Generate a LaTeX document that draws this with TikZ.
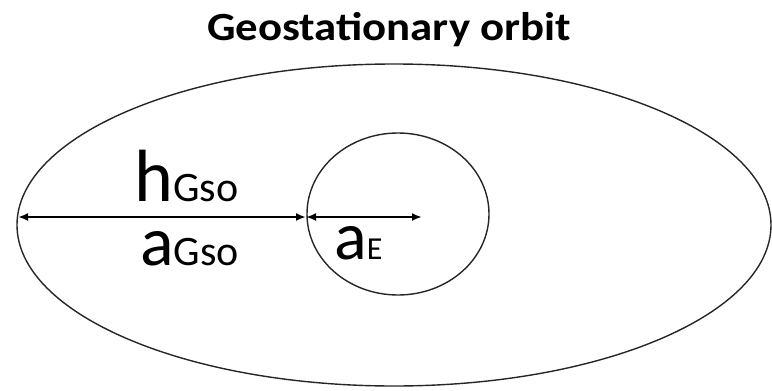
\documentclass[tikz,border=0pt]{standalone}
\usepackage{fontspec}
\setmainfont{Carlito}
\usetikzlibrary{shapes.geometric,arrows.meta}
\begin{document}
\begin{tikzpicture}[x=1pt,y=-1pt,
  orbitline/.style={draw=black!85,line width=1.4pt},
  arr/.style={line width=2pt,{Latex[length=10pt,width=8pt]}-{Latex[length=10pt,width=8pt]}},
  lbl/.style={inner sep=0pt,anchor=base west}]
\useasboundingbox (0,0) rectangle (772,391);
\node[font=\fontsize{40}{40}\selectfont\bfseries,anchor=base,xscale=1.12] (title) at (389,40) {Geostationary orbit};
\node[orbitline,ellipse,minimum width=754pt,minimum height=322pt,inner sep=0pt] (orbit) at (394,225) {};
\node[orbitline,ellipse,minimum width=182pt,minimum height=162pt,inner sep=0pt] (earth) at (398,214) {};
\coordinate (L) at (18,217);
\coordinate (M) at (306,217);
\coordinate (R) at (422,217);
\draw[arr] (L) -- (M);
\draw[arr] (M) -- (R);
\node[lbl] (hgso) at (134,201) {\fontsize{74}{74}\selectfont h\fontsize{42}{42}\selectfont Gso};
\node[lbl] (agso) at (140,265) {\fontsize{70}{70}\selectfont a\fontsize{42}{42}\selectfont Gso};
\node[lbl] (ae) at (334,259) {\fontsize{68}{68}\selectfont a\fontsize{32}{32}\selectfont E};
\end{tikzpicture}
\end{document}
